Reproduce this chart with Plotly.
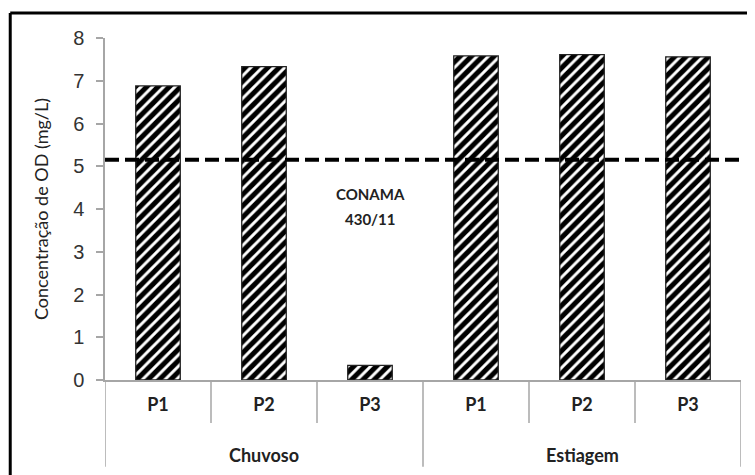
import plotly.graph_objects as go

groups = ["Chuvoso", "Estiagem"]
points = ["P1", "P2", "P3"]
od_values = [6.88, 7.33, 0.34, 7.58, 7.61, 7.56]
conama_limit = 5.15
conama_label = ["CONAMA", "430/11"]
y_ticks = [0, 1, 2, 3, 4, 5, 6, 7, 8]

n_pts = len(points)
x_idx = list(range(len(groups) * n_pts))
x_labels = [p for g in groups for p in points]

FONT = "Lato"
GRAY = "#a6a6a6"

fig = go.Figure()
fig.add_trace(go.Bar(
    x=x_idx, y=od_values, width=0.42,
    marker=dict(color="white", line=dict(color="#222222", width=1.3),
                pattern=dict(shape="/", fgcolor="#000000", fgopacity=1, bgcolor="white",
                             size=8, solidity=0.64)),
    showlegend=False, hoverinfo="y",
))
fig.add_trace(go.Scatter(
    x=[x_idx[0] - 0.5, x_idx[-1] + 0.5], y=[conama_limit, conama_limit],
    mode="lines", line=dict(color="black", width=4, dash="14px,6px"),
    showlegend=False, hoverinfo="skip",
))

shapes = []
for i in range(len(x_idx) + 1):
    is_group_edge = (i % n_pts == 0)
    shapes.append(dict(type="line", xref="x", yref="paper",
                       x0=i - 0.5, x1=i - 0.5, y0=0,
                       y1=-0.254 if is_group_edge else -0.126,
                       line=dict(color=GRAY, width=1.5)))
# outer frame: only top and left edges are visible in the reference
shapes.append(dict(type="line", xref="paper", yref="paper",
                   x0=-0.149, x1=1.2, y0=1.073, y1=1.073,
                   line=dict(color="black", width=3)))
shapes.append(dict(type="line", xref="paper", yref="paper",
                   x0=-0.149, x1=-0.149, y0=1.073, y1=-0.4,
                   line=dict(color="black", width=3)))

annotations = []
for gi, g in enumerate(groups):
    annotations.append(dict(x=gi * n_pts + (n_pts - 1) / 2, y=-0.219, xref="x", yref="paper",
                            text=g, showarrow=False, yanchor="middle",
                            font=dict(family=FONT, size=18, color="#222", weight="bold")))
for li, line in enumerate(conama_label):
    annotations.append(dict(x=2.0, y=4.36 - li * 0.6, xref="x", yref="y",
                            text=line, showarrow=False, yanchor="middle",
                            font=dict(family=FONT, size=15, color="#222", weight="bold")))

# the page adds an 8px body margin, so the figure is sized to fill the rest of the window
fig.update_layout(
    width=747, height=467,
    margin=dict(l=97, r=14, t=30, b=95, autoexpand=False),
    paper_bgcolor="white", plot_bgcolor="white",
    shapes=shapes, annotations=annotations,
    xaxis=dict(range=[-0.5, x_idx[-1] + 0.5], tickvals=x_idx, ticktext=x_labels,
               showgrid=False, zeroline=False, showline=True, linecolor=GRAY, linewidth=1.5,
               ticks="", ticklabelstandoff=8, automargin=False,
               tickfont=dict(family=FONT, size=18, color="#222", weight="bold")),
    yaxis=dict(range=[0, 8], tickvals=y_ticks, showgrid=False, zeroline=False,
               showline=True, linecolor=GRAY, linewidth=1.5, automargin=False,
               ticks="outside", ticklen=7, tickcolor=GRAY, tickwidth=1.5,
               ticklabelstandoff=8,
               tickfont=dict(family="Liberation Sans", size=20, color="#333"),
               title=dict(text="Concentração de OD (mg/L)", standoff=20,
                          font=dict(family=FONT, size=18, color="#222"))),
)

fig.write_html("out.html", config={"displayModeBar": False})
